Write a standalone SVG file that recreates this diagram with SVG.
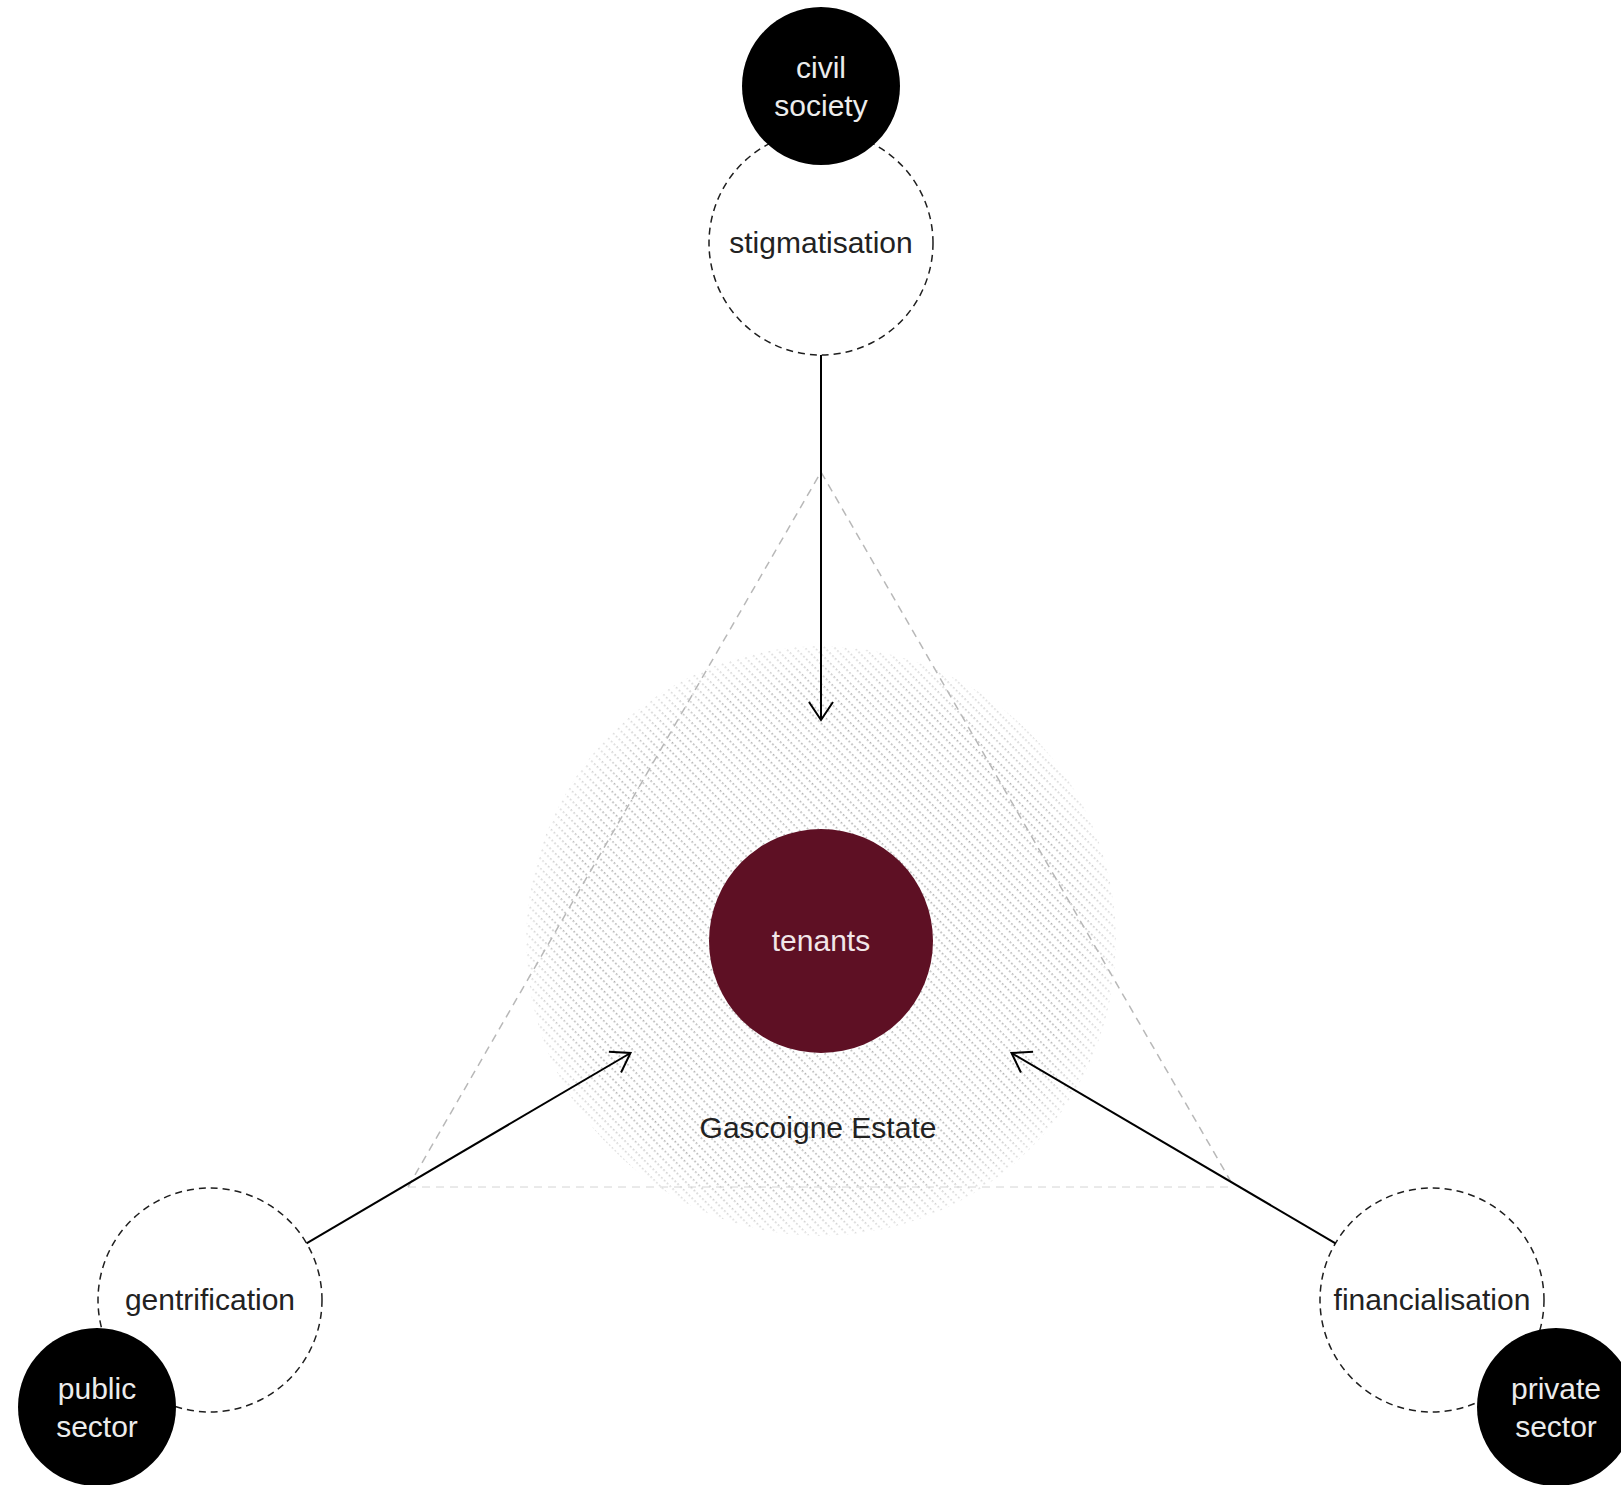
<svg xmlns="http://www.w3.org/2000/svg" width="1621" height="1485" viewBox="0 0 1621 1485">
  <style>
    .lbl { font-family: "Liberation Sans", Arial, sans-serif; font-size: 30px; text-anchor: middle; }
    .dark { fill: #222222; }
    .light { fill: #ececec; }
    .dash { fill: #ffffff; stroke: #1e1e1e; stroke-width: 1.5; stroke-dasharray: 7 5; }
    .actor { fill: #000000; }
    .conn { stroke: #000000; stroke-width: 2; fill: none; marker-end: url(#arrow); }
    .tri { stroke: #b8b8b8; stroke-width: 1.5; stroke-dasharray: 8 6; fill: none; }
    .base { stroke: #d4d4d4; stroke-width: 1; stroke-dasharray: 8 6; fill: none; }
  </style>
  <defs>
    <pattern id="hatch" patternUnits="userSpaceOnUse" width="4" height="7" patternTransform="rotate(45)">
      <rect x="0" y="0" width="1.6" height="1.6" fill="#b0b0b0"/>
    </pattern>
    <radialGradient id="fade" cx="821" cy="941" r="295" gradientUnits="userSpaceOnUse">
      <stop offset="0.85" stop-color="#fff" stop-opacity="1"/>
      <stop offset="1" stop-color="#fff" stop-opacity="0.45"/>
    </radialGradient>
    <mask id="fadeMask">
      <circle cx="821" cy="941" r="295" fill="url(#fade)"/>
    </mask>
    <marker id="arrow" markerUnits="userSpaceOnUse" markerWidth="30" markerHeight="30" viewBox="-22 -15 26 30" refX="0" refY="0" orient="auto">
      <path d="M -18 -12 L 0 0 L -18 12" fill="none" stroke="#000" stroke-width="2"/>
    </marker>
  </defs>
  <rect x="0" y="0" width="1621" height="1485" fill="#ffffff"/>

  <g id="estate">
    <circle cx="821" cy="941" r="295" fill="url(#hatch)" mask="url(#fadeMask)"/>
  </g>

  <g id="frame">
    <path class="tri" d="M 408 1187 L 821 472 L 1234 1187"/>
    <path class="base" d="M 408 1187 L 1234 1187"/>
  </g>

  <g id="estate-label">
    <text class="lbl dark" x="818" y="1138">Gascoigne Estate</text>
  </g>

  <g id="tenants">
    <circle cx="821" cy="941" r="112" fill="#5e1024"/>
    <text class="lbl" x="821" y="951" fill="#f1e6e8">tenants</text>
  </g>

  <g id="stigmatisation">
    <circle class="dash" cx="821" cy="243" r="112"/>
    <text class="lbl dark" x="821" y="253">stigmatisation</text>
  </g>
  <g id="civil-society">
    <circle class="actor" cx="821" cy="86" r="79"/>
    <text class="lbl light" x="821" y="78">civil</text>
    <text class="lbl light" x="821" y="116">society</text>
  </g>

  <g id="gentrification">
    <circle class="dash" cx="210" cy="1300" r="112"/>
    <text class="lbl dark" x="210" y="1310">gentrification</text>
  </g>
  <g id="public-sector">
    <circle class="actor" cx="97" cy="1407" r="79"/>
    <text class="lbl light" x="97" y="1399">public</text>
    <text class="lbl light" x="97" y="1437">sector</text>
  </g>

  <g id="financialisation">
    <circle class="dash" cx="1432" cy="1300" r="112"/>
    <text class="lbl dark" x="1432" y="1310">financialisation</text>
  </g>
  <g id="private-sector">
    <circle class="actor" cx="1556" cy="1407" r="79"/>
    <text class="lbl light" x="1556" y="1399">private</text>
    <text class="lbl light" x="1556" y="1437">sector</text>
  </g>

  <g id="connectors">
    <line class="conn" x1="821" y1="355" x2="821" y2="720"/>
    <line class="conn" x1="306.5" y1="1243.3" x2="630.5" y2="1053"/>
    <line class="conn" x1="1335.5" y1="1243.3" x2="1011.5" y2="1053"/>
  </g>
</svg>
